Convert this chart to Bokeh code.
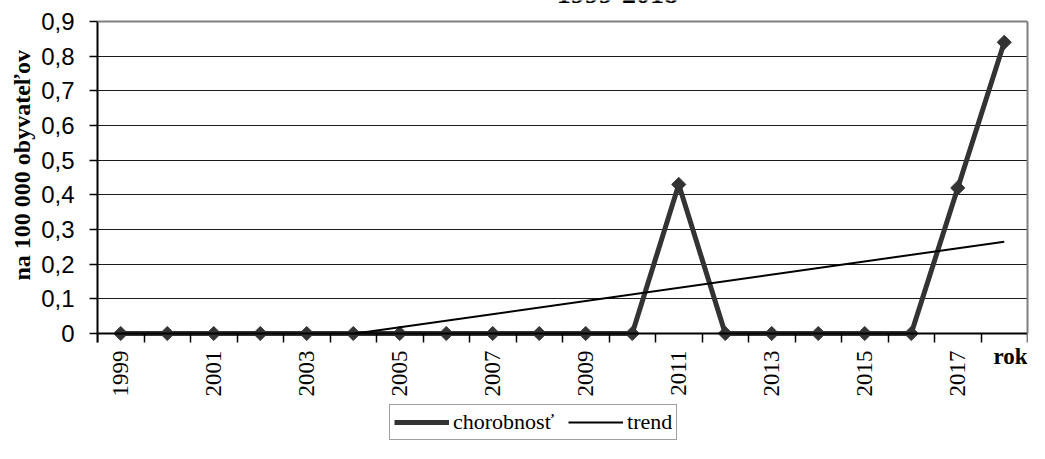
import math
import numpy as np
from bokeh.plotting import figure
from bokeh.models import (Range1d, FixedTicker, CustomJSTickFormatter, Label, LabelSet,
                          Legend, LegendItem, LinearAxis, Span, ColumnDataSource, Title)
from bokeh.embed import file_html
from bokeh.resources import INLINE

# ---- data ----
years = list(range(1999, 2019))
chorobnost = [0, 0, 0, 0, 0, 0, 0, 0, 0, 0, 0, 0, 0.43, 0, 0, 0, 0, 0, 0.42, 0.84]
x_tick_labels = [1999, 2001, 2003, 2005, 2007, 2009, 2011, 2013, 2015, 2017]
y_ticks = [0, 0.1, 0.2, 0.3, 0.4, 0.5, 0.6, 0.7, 0.8, 0.9]
title_text = "1999-2018"
y_title = "na 100 000 obyvateľov"
x_title = "rok"
series_name = "chorobnosť"
trend_name = "trend"

# linear trend (clipped at the axis minimum, as in the source chart)
m, b = np.polyfit(years, chorobnost, 1)
x0 = -b / m
trend_x = [x0, years[-1]]
trend_y = [m * x0 + b, m * years[-1] + b]

p = figure(frame_width=930, frame_height=443,
           x_range=Range1d(years[0] - 0.5, years[-1] + 0.5),
           y_range=Range1d(-0.3173, 0.9606),
           output_backend="svg", toolbar_location=None,
           min_border_left=97, min_border_right=2,
           min_border_top=0, min_border_bottom=0)
p.outline_line_color = None
p.background_fill_color = "white"
p.border_fill_color = "white"
p.xgrid.visible = False
p.ygrid.ticker = FixedTicker(ticks=y_ticks)
p.ygrid.grid_line_color = "#1a1a1a"
p.ygrid.grid_line_width = 1

# x axis: drawn at y = 0, tick marks between categories
xa = p.xaxis[0]
xa.ticker = FixedTicker(ticks=[],
                        minor_ticks=[y - 0.5 for y in years] + [years[-1] + 0.5])
xa.fixed_location = 0
xa.bounds = (years[0] - 0.5, years[-1] + 0.5)
xa.major_tick_out = 0
xa.major_tick_in = 0
xa.minor_tick_out = 9
xa.minor_tick_in = 0
xa.minor_tick_line_color = "black"
xa.minor_tick_line_width = 1.5
xa.axis_line_color = "black"
xa.axis_line_width = 2
xa.major_label_standoff = 0

# year labels (every second year), vertical
lab_src = ColumnDataSource(dict(x=x_tick_labels, y=[0] * len(x_tick_labels),
                                t=[str(v) for v in x_tick_labels]))
p.add_layout(LabelSet(x="x", y="y", text="t", source=lab_src, angle=math.pi / 2,
                      y_offset=-17, text_align="right", text_baseline="middle",
                      text_font="Liberation Sans", text_font_size="23px",
                      text_color="black"))

# y axis
ya = p.yaxis[0]
ya.ticker = FixedTicker(ticks=y_ticks)
ya.bounds = (-0.026, 0.9)
ya.formatter = CustomJSTickFormatter(
    code="return Math.abs(tick) < 1e-9 ? '0' : tick.toFixed(1).replace('.', ',');")
ya.major_tick_out = 8
ya.major_tick_in = 0
ya.minor_tick_out = 0
ya.minor_tick_in = 0
ya.major_tick_line_color = "black"
ya.major_tick_line_width = 1.5
ya.axis_line_color = "black"
ya.axis_line_width = 2
ya.major_label_standoff = 15
ya.major_label_text_font = "Liberation Sans"
ya.major_label_text_font_size = "24px"
ya.major_label_text_color = "black"

# y title, placed as a side title starting 163 px above the frame bottom
p.add_layout(Title(text=y_title, align="left", offset=163, standoff=8,
                   text_font="Liberation Serif", text_font_style="bold",
                   text_font_size="24px", text_color="black"), "left")

# plot-area border (top, right) in gray
ra = LinearAxis(ticker=FixedTicker(ticks=[]), bounds=(0, 0.9), axis_line_color="#808080",
                axis_line_width=2, major_tick_out=0, major_tick_in=0,
                minor_tick_out=0, minor_tick_in=0, major_label_standoff=0)
p.add_layout(ra, "right")
p.add_layout(Span(location=0.9, dimension="width", line_color="#808080", line_width=2))

# series
l1 = p.line(years, chorobnost, line_color="#333333", line_width=5)
s1 = p.scatter(years, chorobnost, marker="square", angle=math.pi / 4, size=10,
               fill_color="#333333", line_color="#333333")
t1 = p.line(trend_x, trend_y, line_color="black", line_width=2)
# legend-only diamond symbol (no data points)
s_leg = p.scatter(x=[], y=[], marker="diamond", fill_color="#333333",
                  line_color="#333333", line_width=1.5)

# texts
p.add_layout(Label(x=2009.68, y=0.978, text=title_text, text_font="Liberation Serif",
                   text_font_style="bold", text_font_size="28px", text_align="center",
                   text_baseline="alphabetic", text_color="black"))
p.add_layout(Label(x=2018.5, y=-0.066, text=x_title, text_font="Liberation Serif",
                   text_font_style="bold", text_font_size="23px", text_align="right",
                   text_baseline="alphabetic", text_color="black"))

legend = Legend(items=[LegendItem(label=series_name, renderers=[l1, s_leg]),
                       LegendItem(label=trend_name, renderers=[t1])],
                orientation="horizontal", location=(292, 3))
legend.label_text_font = "Liberation Serif"
legend.label_text_font_size = "22px"
legend.label_text_color = "black"
legend.glyph_width = 55
legend.glyph_height = 26
legend.label_height = 22
legend.label_standoff = 4
legend.spacing = 14
legend.padding = 4
legend.margin = 0
legend.border_line_color = "#404040"
legend.border_line_width = 1
legend.background_fill_color = "white"
legend.background_fill_alpha = 1
p.add_layout(legend, "center")

open("out.html", "w").write(file_html(p, INLINE))
